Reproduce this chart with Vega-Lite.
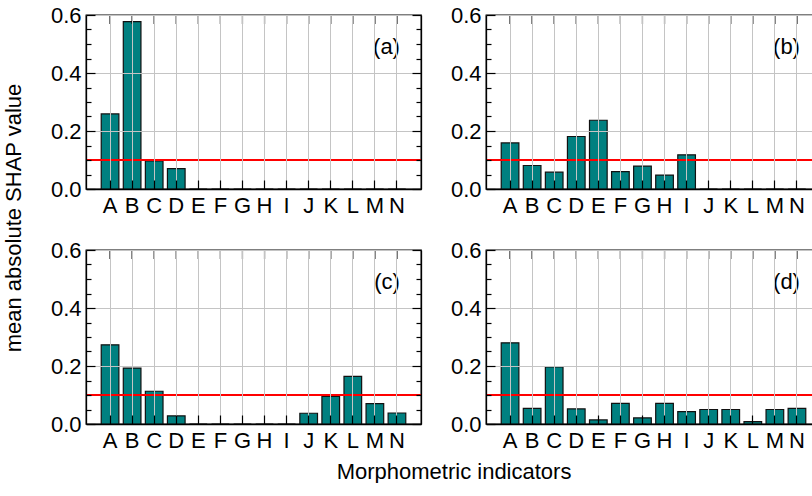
{
  "$schema": "https://vega.github.io/schema/vega-lite/v6.json",
  "padding": {"left": 2, "top": 3, "right": 0, "bottom": 0},
  "title": {"text": "mean absolute SHAP value", "orient": "left", "anchor": "middle", "fontSize": 22, "fontWeight": "normal", "font": "Liberation Sans", "color": "black", "offset": 24, "dx": 25},
  "data": {"values": [
    {"panel": "(a)", "ind": "A", "value": 0.259},
    {"panel": "(a)", "ind": "B", "value": 0.577},
    {"panel": "(a)", "ind": "C", "value": 0.097},
    {"panel": "(a)", "ind": "D", "value": 0.070},
    {"panel": "(a)", "ind": "E", "value": 0},
    {"panel": "(a)", "ind": "F", "value": 0},
    {"panel": "(a)", "ind": "G", "value": 0},
    {"panel": "(a)", "ind": "H", "value": 0},
    {"panel": "(a)", "ind": "I", "value": 0},
    {"panel": "(a)", "ind": "J", "value": 0},
    {"panel": "(a)", "ind": "K", "value": 0},
    {"panel": "(a)", "ind": "L", "value": 0},
    {"panel": "(a)", "ind": "M", "value": 0},
    {"panel": "(a)", "ind": "N", "value": 0},
    {"panel": "(b)", "ind": "A", "value": 0.159},
    {"panel": "(b)", "ind": "B", "value": 0.081},
    {"panel": "(b)", "ind": "C", "value": 0.058},
    {"panel": "(b)", "ind": "D", "value": 0.181},
    {"panel": "(b)", "ind": "E", "value": 0.237},
    {"panel": "(b)", "ind": "F", "value": 0.060},
    {"panel": "(b)", "ind": "G", "value": 0.079},
    {"panel": "(b)", "ind": "H", "value": 0.048},
    {"panel": "(b)", "ind": "I", "value": 0.118},
    {"panel": "(b)", "ind": "J", "value": 0},
    {"panel": "(b)", "ind": "K", "value": 0},
    {"panel": "(b)", "ind": "L", "value": 0},
    {"panel": "(b)", "ind": "M", "value": 0},
    {"panel": "(b)", "ind": "N", "value": 0},
    {"panel": "(c)", "ind": "A", "value": 0.273},
    {"panel": "(c)", "ind": "B", "value": 0.193},
    {"panel": "(c)", "ind": "C", "value": 0.113},
    {"panel": "(c)", "ind": "D", "value": 0.028},
    {"panel": "(c)", "ind": "E", "value": 0},
    {"panel": "(c)", "ind": "F", "value": 0},
    {"panel": "(c)", "ind": "G", "value": 0},
    {"panel": "(c)", "ind": "H", "value": 0},
    {"panel": "(c)", "ind": "I", "value": 0},
    {"panel": "(c)", "ind": "J", "value": 0.037},
    {"panel": "(c)", "ind": "K", "value": 0.095},
    {"panel": "(c)", "ind": "L", "value": 0.164},
    {"panel": "(c)", "ind": "M", "value": 0.070},
    {"panel": "(c)", "ind": "N", "value": 0.038},
    {"panel": "(d)", "ind": "A", "value": 0.280},
    {"panel": "(d)", "ind": "B", "value": 0.054},
    {"panel": "(d)", "ind": "C", "value": 0.197},
    {"panel": "(d)", "ind": "D", "value": 0.052},
    {"panel": "(d)", "ind": "E", "value": 0.014},
    {"panel": "(d)", "ind": "F", "value": 0.071},
    {"panel": "(d)", "ind": "G", "value": 0.021},
    {"panel": "(d)", "ind": "H", "value": 0.071},
    {"panel": "(d)", "ind": "I", "value": 0.043},
    {"panel": "(d)", "ind": "J", "value": 0.050},
    {"panel": "(d)", "ind": "K", "value": 0.050},
    {"panel": "(d)", "ind": "L", "value": 0.008},
    {"panel": "(d)", "ind": "M", "value": 0.050},
    {"panel": "(d)", "ind": "N", "value": 0.054}
  ]},
  "vconcat": [
    {
      "title": {"text": "Morphometric indicators", "orient": "bottom", "anchor": "middle", "fontSize": 22, "fontWeight": "normal", "font": "Liberation Sans", "color": "black", "offset": 10, "dx": 18},
      "spacing": 21,
      "vconcat": [
        {
          "spacing": 26,
          "hconcat": [
            {
              "width": 335, "height": 174,
              "transform": [{"filter": "datum.panel == '(a)'"}],
              "layer": [
                {"mark": {"type": "bar", "fill": "#008080", "stroke": "#111111", "strokeWidth": 1.2},
                 "encoding": {
                   "x": {"field": "ind", "type": "nominal", "title": null, "scale": {"paddingInner": 0.2, "paddingOuter": 0.69},
                         "axis": {"orient": "bottom", "labelAngle": 0, "bandPosition": 0.5, "tickSize": -9, "labelPadding": 15, "grid": true, "zindex": 1, "labelOverlap": false}},
                   "y": {"field": "value", "type": "quantitative", "title": null, "scale": {"domain": [0, 0.6], "nice": false},
                         "axis": {"orient": "left", "values": [0, 0.05, 0.1, 0.15, 0.2, 0.25, 0.3, 0.35, 0.4, 0.45, 0.5, 0.55, 0.6], "labelExpr": "round(datum.value*20) % 4 == 0 ? format(datum.value, '.1f') : ''", "labelOverlap": false, "tickSize": {"condition": {"test": "round(datum.value*20) % 4 == 0", "value": -9}, "value": -5}, "labelPadding": 14, "grid": true, "gridOpacity": {"condition": {"test": "round(datum.value*20) % 4 == 0", "value": 1}, "value": 0}, "zindex": 1}}}},
                {"mark": {"type": "rule", "color": "black", "strokeWidth": 1.2},
                 "encoding": {
                   "x": {"field": "ind", "type": "nominal", "title": null},
                   "y": {"datum": 0.6, "scale": {"domain": [0, 0.6], "nice": false}, "axis": null},
                   "y2": {"datum": 0.569}}},
                {"mark": {"type": "rule", "color": "red", "strokeWidth": 1.3},
                 "encoding": {"y": {"datum": 0.1, "scale": {"domain": [0, 0.6], "nice": false}, "axis": {"orient": "right", "title": null, "values": [0, 0.05, 0.1, 0.15, 0.2, 0.25, 0.3, 0.35, 0.4, 0.45, 0.5, 0.55, 0.6], "labels": false, "tickSize": {"condition": {"test": "round(datum.value*20) % 4 == 0", "value": -9}, "value": -5}, "grid": false, "zindex": 1}}}},
                {"transform": [{"filter": "datum.ind == 'N'"}],
                 "mark": {"type": "text", "align": "right", "baseline": "middle", "dx": 3, "fontSize": 22, "font": "Liberation Sans", "color": "black"},
                 "encoding": {
                   "x": {"field": "ind", "type": "nominal", "title": null},
                   "y": {"datum": 0.49, "scale": {"domain": [0, 0.6], "nice": false}, "axis": null},
                   "text": {"field": "panel"}}}
              ],
              "resolve": {"scale": {"y": "independent"}}
            },
            {
              "width": 335, "height": 174,
              "transform": [{"filter": "datum.panel == '(b)'"}],
              "layer": [
                {"mark": {"type": "bar", "fill": "#008080", "stroke": "#111111", "strokeWidth": 1.2},
                 "encoding": {
                   "x": {"field": "ind", "type": "nominal", "title": null, "scale": {"paddingInner": 0.2, "paddingOuter": 0.69},
                         "axis": {"orient": "bottom", "labelAngle": 0, "bandPosition": 0.5, "tickSize": -9, "labelPadding": 15, "grid": true, "zindex": 1, "labelOverlap": false}},
                   "y": {"field": "value", "type": "quantitative", "title": null, "scale": {"domain": [0, 0.6], "nice": false},
                         "axis": {"orient": "left", "values": [0, 0.05, 0.1, 0.15, 0.2, 0.25, 0.3, 0.35, 0.4, 0.45, 0.5, 0.55, 0.6], "labelExpr": "round(datum.value*20) % 4 == 0 ? format(datum.value, '.1f') : ''", "labelOverlap": false, "tickSize": {"condition": {"test": "round(datum.value*20) % 4 == 0", "value": -9}, "value": -5}, "labelPadding": 14, "grid": true, "gridOpacity": {"condition": {"test": "round(datum.value*20) % 4 == 0", "value": 1}, "value": 0}, "zindex": 1}}}},
                {"mark": {"type": "rule", "color": "black", "strokeWidth": 1.2},
                 "encoding": {
                   "x": {"field": "ind", "type": "nominal", "title": null},
                   "y": {"datum": 0.6, "scale": {"domain": [0, 0.6], "nice": false}, "axis": null},
                   "y2": {"datum": 0.569}}},
                {"mark": {"type": "rule", "color": "red", "strokeWidth": 1.3},
                 "encoding": {"y": {"datum": 0.1, "scale": {"domain": [0, 0.6], "nice": false}, "axis": {"orient": "right", "title": null, "values": [0, 0.05, 0.1, 0.15, 0.2, 0.25, 0.3, 0.35, 0.4, 0.45, 0.5, 0.55, 0.6], "labels": false, "tickSize": {"condition": {"test": "round(datum.value*20) % 4 == 0", "value": -9}, "value": -5}, "grid": false, "zindex": 1}}}},
                {"transform": [{"filter": "datum.ind == 'N'"}],
                 "mark": {"type": "text", "align": "right", "baseline": "middle", "dx": 3, "fontSize": 22, "font": "Liberation Sans", "color": "black"},
                 "encoding": {
                   "x": {"field": "ind", "type": "nominal", "title": null},
                   "y": {"datum": 0.49, "scale": {"domain": [0, 0.6], "nice": false}, "axis": null},
                   "text": {"field": "panel"}}}
              ],
              "resolve": {"scale": {"y": "independent"}}
            }
          ]
        },
        {
          "spacing": 26,
          "hconcat": [
            {
              "width": 335, "height": 174,
              "transform": [{"filter": "datum.panel == '(c)'"}],
              "layer": [
                {"mark": {"type": "bar", "fill": "#008080", "stroke": "#111111", "strokeWidth": 1.2},
                 "encoding": {
                   "x": {"field": "ind", "type": "nominal", "title": null, "scale": {"paddingInner": 0.2, "paddingOuter": 0.69},
                         "axis": {"orient": "bottom", "labelAngle": 0, "bandPosition": 0.5, "tickSize": -9, "labelPadding": 15, "grid": true, "zindex": 1, "labelOverlap": false}},
                   "y": {"field": "value", "type": "quantitative", "title": null, "scale": {"domain": [0, 0.6], "nice": false},
                         "axis": {"orient": "left", "values": [0, 0.05, 0.1, 0.15, 0.2, 0.25, 0.3, 0.35, 0.4, 0.45, 0.5, 0.55, 0.6], "labelExpr": "round(datum.value*20) % 4 == 0 ? format(datum.value, '.1f') : ''", "labelOverlap": false, "tickSize": {"condition": {"test": "round(datum.value*20) % 4 == 0", "value": -9}, "value": -5}, "labelPadding": 14, "grid": true, "gridOpacity": {"condition": {"test": "round(datum.value*20) % 4 == 0", "value": 1}, "value": 0}, "zindex": 1}}}},
                {"mark": {"type": "rule", "color": "black", "strokeWidth": 1.2},
                 "encoding": {
                   "x": {"field": "ind", "type": "nominal", "title": null},
                   "y": {"datum": 0.6, "scale": {"domain": [0, 0.6], "nice": false}, "axis": null},
                   "y2": {"datum": 0.569}}},
                {"mark": {"type": "rule", "color": "red", "strokeWidth": 1.3},
                 "encoding": {"y": {"datum": 0.1, "scale": {"domain": [0, 0.6], "nice": false}, "axis": {"orient": "right", "title": null, "values": [0, 0.05, 0.1, 0.15, 0.2, 0.25, 0.3, 0.35, 0.4, 0.45, 0.5, 0.55, 0.6], "labels": false, "tickSize": {"condition": {"test": "round(datum.value*20) % 4 == 0", "value": -9}, "value": -5}, "grid": false, "zindex": 1}}}},
                {"transform": [{"filter": "datum.ind == 'N'"}],
                 "mark": {"type": "text", "align": "right", "baseline": "middle", "dx": 3, "fontSize": 22, "font": "Liberation Sans", "color": "black"},
                 "encoding": {
                   "x": {"field": "ind", "type": "nominal", "title": null},
                   "y": {"datum": 0.49, "scale": {"domain": [0, 0.6], "nice": false}, "axis": null},
                   "text": {"field": "panel"}}}
              ],
              "resolve": {"scale": {"y": "independent"}}
            },
            {
              "width": 335, "height": 174,
              "transform": [{"filter": "datum.panel == '(d)'"}],
              "layer": [
                {"mark": {"type": "bar", "fill": "#008080", "stroke": "#111111", "strokeWidth": 1.2},
                 "encoding": {
                   "x": {"field": "ind", "type": "nominal", "title": null, "scale": {"paddingInner": 0.2, "paddingOuter": 0.69},
                         "axis": {"orient": "bottom", "labelAngle": 0, "bandPosition": 0.5, "tickSize": -9, "labelPadding": 15, "grid": true, "zindex": 1, "labelOverlap": false}},
                   "y": {"field": "value", "type": "quantitative", "title": null, "scale": {"domain": [0, 0.6], "nice": false},
                         "axis": {"orient": "left", "values": [0, 0.05, 0.1, 0.15, 0.2, 0.25, 0.3, 0.35, 0.4, 0.45, 0.5, 0.55, 0.6], "labelExpr": "round(datum.value*20) % 4 == 0 ? format(datum.value, '.1f') : ''", "labelOverlap": false, "tickSize": {"condition": {"test": "round(datum.value*20) % 4 == 0", "value": -9}, "value": -5}, "labelPadding": 14, "grid": true, "gridOpacity": {"condition": {"test": "round(datum.value*20) % 4 == 0", "value": 1}, "value": 0}, "zindex": 1}}}},
                {"mark": {"type": "rule", "color": "black", "strokeWidth": 1.2},
                 "encoding": {
                   "x": {"field": "ind", "type": "nominal", "title": null},
                   "y": {"datum": 0.6, "scale": {"domain": [0, 0.6], "nice": false}, "axis": null},
                   "y2": {"datum": 0.569}}},
                {"mark": {"type": "rule", "color": "red", "strokeWidth": 1.3},
                 "encoding": {"y": {"datum": 0.1, "scale": {"domain": [0, 0.6], "nice": false}, "axis": {"orient": "right", "title": null, "values": [0, 0.05, 0.1, 0.15, 0.2, 0.25, 0.3, 0.35, 0.4, 0.45, 0.5, 0.55, 0.6], "labels": false, "tickSize": {"condition": {"test": "round(datum.value*20) % 4 == 0", "value": -9}, "value": -5}, "grid": false, "zindex": 1}}}},
                {"transform": [{"filter": "datum.ind == 'N'"}],
                 "mark": {"type": "text", "align": "right", "baseline": "middle", "dx": 3, "fontSize": 22, "font": "Liberation Sans", "color": "black"},
                 "encoding": {
                   "x": {"field": "ind", "type": "nominal", "title": null},
                   "y": {"datum": 0.49, "scale": {"domain": [0, 0.6], "nice": false}, "axis": null},
                   "text": {"field": "panel"}}}
              ],
              "resolve": {"scale": {"y": "independent"}}
            }
          ]
        }
      ]
    }
  ],
  "config": {
    "font": "Liberation Sans",
    "view": {"stroke": "black", "strokeWidth": 1.3},
    "axis": {
      "labelFont": "Liberation Sans",
      "labelFontSize": 22,
      "labelColor": "black",
      "tickColor": "black",
      "tickWidth": 1.2,
      "domainColor": "black",
      "domainWidth": 1.3,
      "gridColor": "#c4c4c4",
      "gridWidth": 1,
      "labelFlush": false
    }
  }
}
